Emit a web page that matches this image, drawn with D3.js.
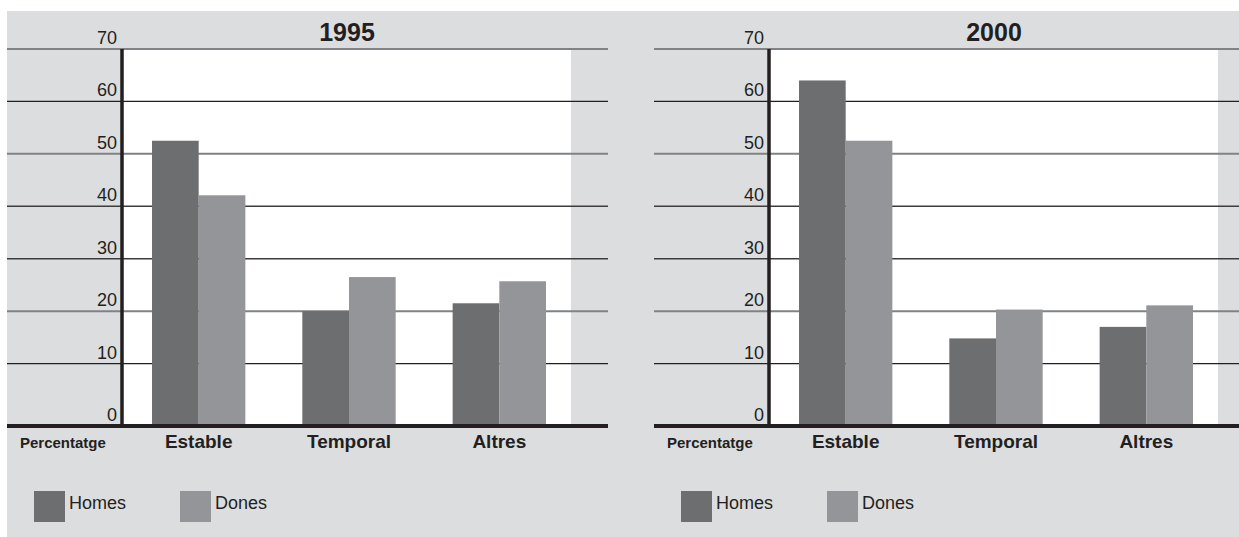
<!DOCTYPE html>
<html>
<head>
<meta charset="utf-8">
<script src="https://cdn.jsdelivr.net/npm/d3@7"></script>
<style>
  html, body { margin: 0; padding: 0; background: #ffffff; }
  svg { display: block; }
  text { font-family: "Liberation Sans", Arial, sans-serif; fill: #231f20; }
</style>
</head>
<body>
<svg id="chart" width="1239" height="537"></svg>
<script>
// ---- data ----
const categories = ["Estable", "Temporal", "Altres"];
const seriesNames = ["Homes", "Dones"];
const years = ["1995", "2000"];
const homes1995 = [52.5, 20.0, 21.5];
const dones1995 = [42.1, 26.5, 25.7];
const homes2000 = [64.0, 14.8, 17.0];
const dones2000 = [52.5, 20.3, 21.1];
const yTicks = [0, 10, 20, 30, 40, 50, 60, 70];
const axisTitle = "Percentatge";

const panels = [
  { year: years[0], values: [homes1995, dones1995] },
  { year: years[1], values: [homes2000, dones2000] }
];

// ---- styling / layout ----
const colors = ["#6d6e70", "#939598"];
const bgColor = "#dcdddf";
const ink = "#231f20";
const panelOffset = 647;
const plotLeft = 123, plotRight = 571;
const lineLeft = 7, lineRight = 608;
const baselineShift = 10;

const svg = d3.select("#chart");

svg.append("rect")
  .attr("x", 7).attr("y", 11)
  .attr("width", 1239 - 7).attr("height", 537 - 11)
  .attr("fill", bgColor);

const y = d3.scaleLinear().domain([0, 70]).range([416, 49]);
const x0 = d3.scaleBand().domain(categories).range([123, 575])
  .paddingInner(0.379).paddingOuter(0.193);
const x1 = d3.scaleBand().domain(seriesNames).range([0, x0.bandwidth()]);
const baseY = y(0) + baselineShift;

function gridStyle(t) {
  if (t === 70 || t === 50 || t === 20) return { c: "#808285", w: 2 };
  if (t === 40 || t === 30) return { c: "#3d3b3c", w: 1.4 };
  return { c: ink, w: 1.3 };
}

panels.forEach((p, pi) => {
  const g = svg.append("g").attr("transform", `translate(${pi * panelOffset},0)`);

  // white plot area
  g.append("rect")
    .attr("x", plotLeft).attr("y", y(70))
    .attr("width", plotRight - plotLeft).attr("height", baseY - y(70))
    .attr("fill", "#ffffff");

  // gridlines
  yTicks.filter(t => t > 0).forEach(t => {
    const s = gridStyle(t);
    g.append("line")
      .attr("x1", lineLeft).attr("x2", lineRight)
      .attr("y1", y(t)).attr("y2", y(t))
      .attr("stroke", s.c).attr("stroke-width", s.w);
  });

  // bars
  categories.forEach((c, ci) => {
    seriesNames.forEach((s, si) => {
      const v = p.values[si][ci];
      g.append("rect")
        .attr("x", x0(c) + x1(s))
        .attr("y", y(v))
        .attr("width", x1.bandwidth())
        .attr("height", baseY - y(v))
        .attr("fill", colors[si]);
    });
  });

  // tick labels
  g.selectAll("text.tick").data(yTicks).enter().append("text")
    .attr("class", "tick")
    .attr("x", 117)
    .attr("y", t => (t === 0 ? baseY : y(t)) - 5)
    .attr("text-anchor", "end")
    .attr("font-size", 18)
    .text(t => t);

  // baseline and y axis
  g.append("line")
    .attr("x1", lineLeft).attr("x2", lineRight)
    .attr("y1", baseY).attr("y2", baseY)
    .attr("stroke", ink).attr("stroke-width", 4);
  g.append("line")
    .attr("x1", 122).attr("x2", 122)
    .attr("y1", y(70)).attr("y2", baseY + 2)
    .attr("stroke", ink).attr("stroke-width", 3.5);

  // title
  g.append("text")
    .attr("x", (plotLeft + plotRight) / 2).attr("y", 41)
    .attr("text-anchor", "middle")
    .attr("font-size", 25).attr("font-weight", "bold")
    .text(p.year);

  // category labels
  categories.forEach(c => {
    g.append("text")
      .attr("x", x0(c) + x0.bandwidth() / 2).attr("y", 448)
      .attr("text-anchor", "middle")
      .attr("font-size", 19).attr("font-weight", "bold")
      .text(c);
  });

  g.append("text")
    .attr("x", 20).attr("y", 448)
    .attr("font-size", 15).attr("font-weight", "bold")
    .text(axisTitle);

  // legend
  const legX = [34, 180];
  seriesNames.forEach((s, si) => {
    g.append("rect")
      .attr("x", legX[si]).attr("y", 491)
      .attr("width", 31).attr("height", 31)
      .attr("fill", colors[si]);
    g.append("text")
      .attr("x", legX[si] + 35).attr("y", 509)
      .attr("font-size", 18)
      .text(s);
  });
});
</script>
</body>
</html>
